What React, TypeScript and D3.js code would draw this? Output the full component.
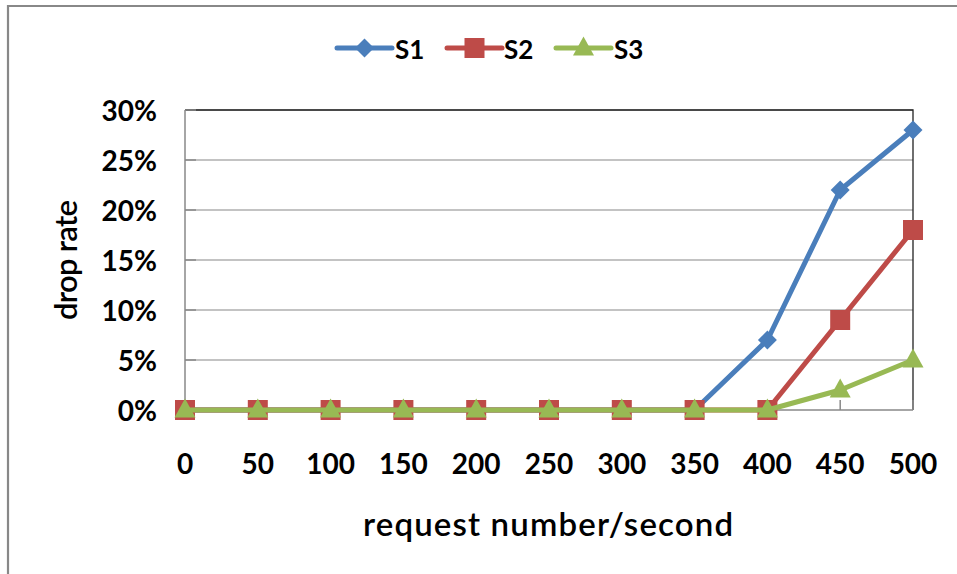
import React from "react";
import * as d3 from "d3";

const categories = [0, 50, 100, 150, 200, 250, 300, 350, 400, 450, 500];
const s1Values = [0, 0, 0, 0, 0, 0, 0, 0, 0.07, 0.22, 0.28];
const s2Values = [0, 0, 0, 0, 0, 0, 0, 0, 0, 0.09, 0.18];
const s3Values = [0, 0, 0, 0, 0, 0, 0, 0, 0, 0.02, 0.05];
const yTicks = [0, 0.05, 0.1, 0.15, 0.2, 0.25, 0.3];
const seriesNames = ["S1", "S2", "S3"];
const seriesColors = ["#4A7EBB", "#BE4B48", "#98B954"];
const markerShapes = ["diamond", "square", "triangle"];

const W = 957;
const H = 574;
const FONT = "Lato, 'Open Sans', sans-serif";

function Marker({ shape, x, y, color }: { shape: string; x: number; y: number; color: string }) {
  if (shape === "diamond") {
    const r = 9.5;
    return <path d={`M${x},${y - r}L${x + r},${y}L${x},${y + r}L${x - r},${y}Z`} fill={color} />;
  }
  if (shape === "square") {
    const s = 20;
    return <rect x={x - s / 2} y={y - s / 2} width={s} height={s} fill={color} />;
  }
  const h = 19;
  const w = 21;
  return <path d={`M${x},${y - h * 0.6}L${x + w / 2},${y + h * 0.4}L${x - w / 2},${y + h * 0.4}Z`} fill={color} />;
}

export default function App() {
  const x = d3.scaleLinear().domain([0, 500]).range([185, 913]);
  const y = d3.scaleLinear().domain([0, 0.3]).range([410, 110]);
  const series = [s1Values, s2Values, s3Values];
  const line = d3
    .line<number>()
    .x((_, i) => x(categories[i]))
    .y((d) => y(d));
  const pct = d3.format(".0%");
  const gray = "#888888";

  const legendItems = [
    { lx: 337, tx: 395 },
    { lx: 447, tx: 504 },
    { lx: 556, tx: 614 },
  ];

  return (
    <svg
      width={W}
      height={H}
      style={{ position: "fixed", left: 0, top: 0, background: "#fff" }}
      fontFamily={FONT}
    >
      <rect x={0} y={0} width={W} height={H} fill="#fff" />
      {/* outer chart frame */}
      <path d={`M8,${H}V6H${W}`} fill="none" stroke={gray} strokeWidth={2.2} />

      {/* horizontal gridlines */}
      {yTicks.slice(1).map((t) => (
        <line key={t} x1={x(0)} x2={x(500)} y1={y(t)} y2={y(t)} stroke={gray} strokeWidth={1.2} />
      ))}
      {/* plot area border (top and right) */}
      <path d={`M${x(0)},${y(0.3)}H${x(500)}V${y(0)}`} fill="none" stroke="#222" strokeWidth={1.3} />

      {/* axes with inward ticks */}
      <line x1={x(0)} x2={x(0)} y1={y(0.3)} y2={y(0)} stroke={gray} strokeWidth={1.5} />
      <line x1={x(0)} x2={x(500)} y1={y(0)} y2={y(0)} stroke={gray} strokeWidth={1.5} />
      {yTicks.map((t) => (
        <line key={"yt" + t} x1={x(0)} x2={x(0) + 11} y1={y(t)} y2={y(t)} stroke={gray} strokeWidth={1.5} />
      ))}
      {categories.map((c) => (
        <line key={"xt" + c} x1={x(c)} x2={x(c)} y1={y(0)} y2={y(0) - 10} stroke={gray} strokeWidth={1.5} />
      ))}

      {/* y tick labels */}
      {yTicks.map((t) => (
        <text
          key={"yl" + t}
          x={157}
          y={y(t)}
          textAnchor="end"
          dominantBaseline="central"
          fontSize={28}
          fontWeight={700}
          fill="#000"
        >
          {pct(t)}
        </text>
      ))}
      {/* x tick labels */}
      {categories.map((c) => (
        <text
          key={"xl" + c}
          x={x(c)}
          y={463}
          textAnchor="middle"
          dominantBaseline="central"
          fontSize={28}
          fontWeight={700}
          fill="#000"
        >
          {c}
        </text>
      ))}

      {/* axis titles */}
      <text
        x={548}
        y={523}
        textAnchor="middle"
        dominantBaseline="central"
        fontSize={33}
        fontWeight={600}
        fill="#000"
        textLength={370}
        lengthAdjust="spacing"
      >
        request number/second
      </text>
      <text
        transform={`translate(65,260) rotate(-90)`}
        textAnchor="middle"
        dominantBaseline="central"
        fontSize={31}
        fontWeight={600}
        fill="#000"
        textLength={120}
        lengthAdjust="spacing"
      >
        drop rate
      </text>

      {/* series lines and markers */}
      {series.map((vals, si) => (
        <g key={"s" + si}>
          <path d={line(vals) || ""} fill="none" stroke={seriesColors[si]} strokeWidth={5} strokeLinejoin="round" />
          {vals.map((v, i) => (
            <Marker key={i} shape={markerShapes[si]} x={x(categories[i])} y={y(v)} color={seriesColors[si]} />
          ))}
        </g>
      ))}

      {/* legend */}
      {legendItems.map((it, si) => (
        <g key={"lg" + si}>
          <line x1={it.lx} x2={it.lx + 55} y1={48} y2={48} stroke={seriesColors[si]} strokeWidth={5} strokeLinecap="round" />
          <Marker shape={markerShapes[si]} x={it.lx + 27.5} y={48} color={seriesColors[si]} />
          <text x={it.tx} y={49} dominantBaseline="central" fontSize={26} fontWeight={700} fill="#000">
            {seriesNames[si]}
          </text>
        </g>
      ))}
    </svg>
  );
}
